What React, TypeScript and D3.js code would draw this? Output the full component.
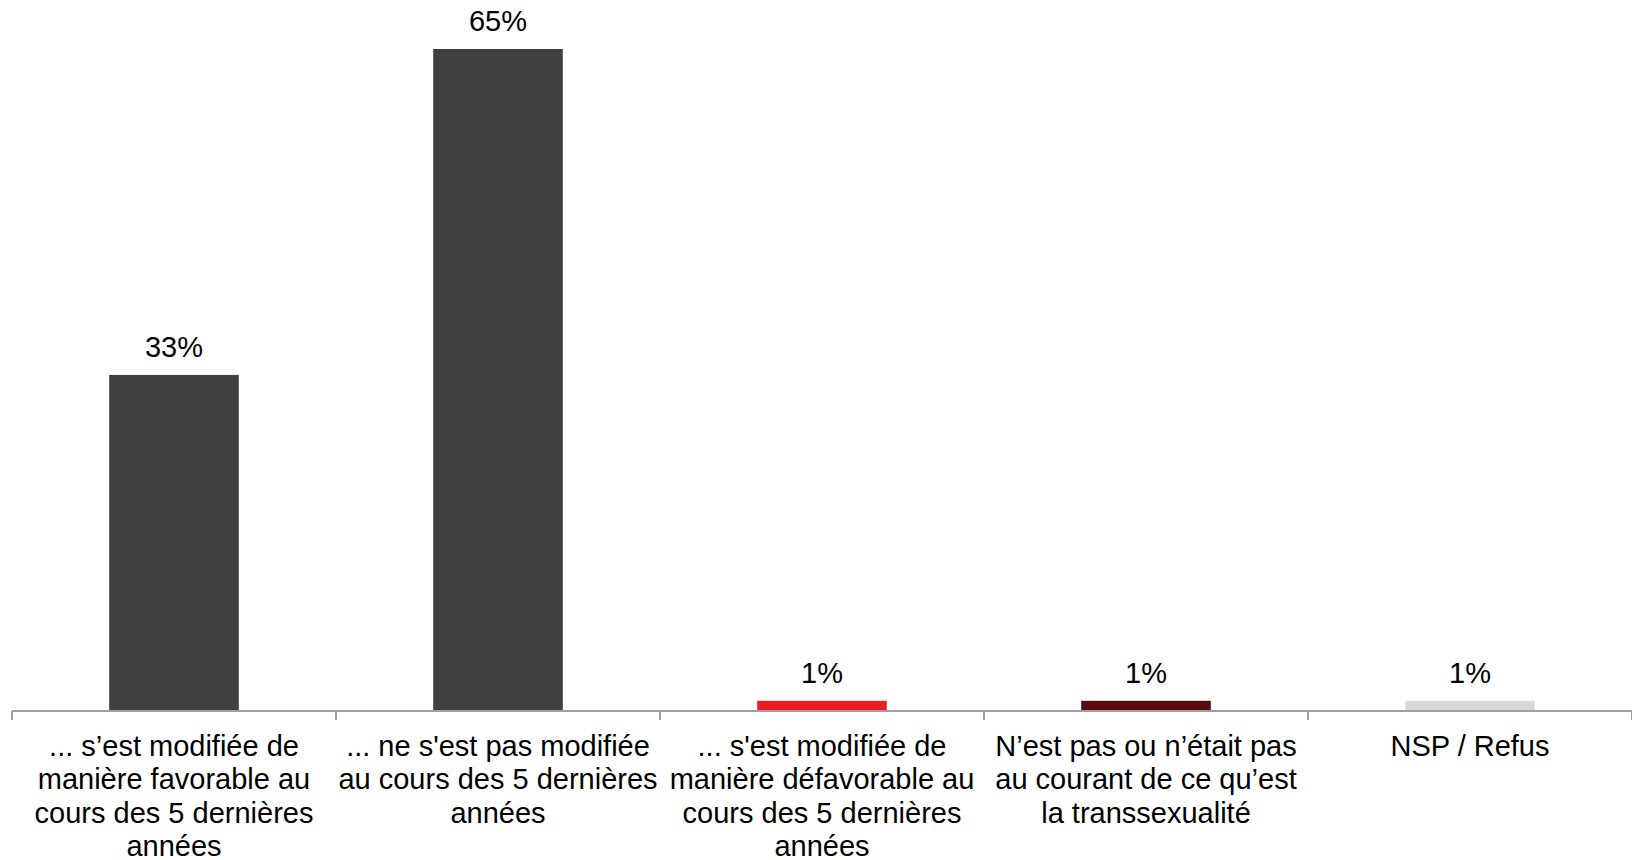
import React from "react";
import * as d3 from "d3";

const categories: string[][] = [
  ["... s’est modifiée de", "manière favorable au", "cours des 5 dernières", "années"],
  ["... ne s'est pas modifiée", "au cours des 5 dernières", "années"],
  ["... s'est modifiée de", "manière défavorable au", "cours des 5 dernières", "années"],
  ["N’est pas ou n’était pas", "au courant de ce qu’est", "la transsexualité"],
  ["NSP / Refus"],
];
const values: number[] = [33, 65, 1, 1, 1];
const colors: string[] = ["#404040", "#404040", "#ED1C24", "#5C0A12", "#D9D9D9"];

const W = 1632;
const H = 860;

export default function App() {
  const band = (1632 - 12) / values.length;
  const y = d3.scaleLinear().domain([0, 65]).range([711, 49]);
  const font = "'Liberation Sans', Arial, sans-serif";
  const ticks = d3.range(values.length + 1).map((i) => 12 + i * band);

  return (
    <svg
      width={W}
      height={H}
      style={{ position: "absolute", left: 0, top: 0 }}
      fontFamily={font}
    >
      {values.map((v, i) => {
        const cx = 12 + band * (i + 0.5);
        const bw = band * 0.4;
        return (
          <g key={i}>
            <rect x={cx - bw / 2} y={y(v)} width={bw} height={y(0) - y(v)} fill={colors[i]} />
            <text x={cx} y={y(v) - 18} textAnchor="middle" fontSize={29} fill="#000">
              {v}%
            </text>
            {categories[i].map((line, j) => (
              <text key={j} x={cx} y={756 + j * 33.3} textAnchor="middle" fontSize={29} fill="#000">
                {line}
              </text>
            ))}
          </g>
        );
      })}
      <line x1={12} x2={1632} y1={711} y2={711} stroke="#A0A0A0" strokeWidth={2} />
      {ticks.map((t, i) => (
        <line key={i} x1={t} x2={t} y1={711} y2={720} stroke="#A0A0A0" strokeWidth={2} />
      ))}
    </svg>
  );
}
